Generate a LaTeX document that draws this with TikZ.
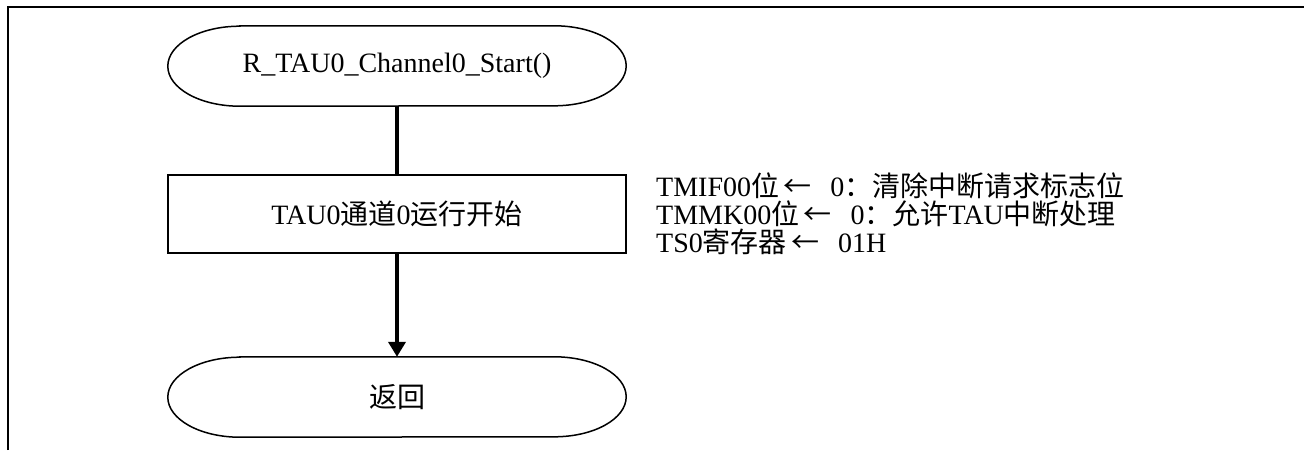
\documentclass[tikz,border=0pt]{standalone}
\usepackage{fontspec}
\setmainfont{Liberation Serif}
\newfontfamily\cjk{Noto Sans CJK SC}
\usetikzlibrary{arrows.meta}

\begin{document}
\begin{tikzpicture}[x=1pt, y=-1pt,
    every node/.style = {font=\fontsize{28}{28}\selectfont, inner sep=0pt},
    term/.style = {minimum width=458pt, minimum height=80pt},
    proc/.style = {draw, line width=1.5pt, minimum width=458pt, minimum height=78pt},
    flow/.style = {line width=4pt},
    flowarrow/.style = {line width=4pt, -{Triangle[width=17pt,length=15pt]}}]
  \useasboundingbox (0,0) rectangle (1304,450);
  \draw[line width=2pt] (8,450) -- (8,7) -- (1304,7);
  \node[term] (start) at (397,66) {R\_TAU0\_Channel0\_Start()};
  \node[proc] (run) at (397,214) {TAU0{\cjk 通道}0{\cjk 运行开始}};
  \node[term] (ret) at (397,397) {{\cjk 返回}};
  \foreach \n in {start,ret}
    \draw[line width=1.5pt] ([xshift=72pt]\n.north west) -- ([xshift=-72pt]\n.north east)
      arc[start angle=90, end angle=-90, x radius=72pt, y radius=40pt]
      -- ([xshift=72pt]\n.south west)
      arc[start angle=270, end angle=90, x radius=72pt, y radius=40pt] -- cycle;
  \draw[flow] (start) -- (run);
  \draw[flowarrow] (run) -- (ret);
  \node[anchor=west, align=left] (note) at (656,214)
    {TMIF00{\cjk 位}\,{\cjk ←}\,\enspace0{\cjk ：清除中断请求标志位}\\
     TMMK00{\cjk 位}\,{\cjk ←}\,\enspace0{\cjk ：允许}TAU{\cjk 中断处理}\\
     TS0{\cjk 寄存器}\,{\cjk ←}\,\enspace01H};
\end{tikzpicture}
\end{document}
